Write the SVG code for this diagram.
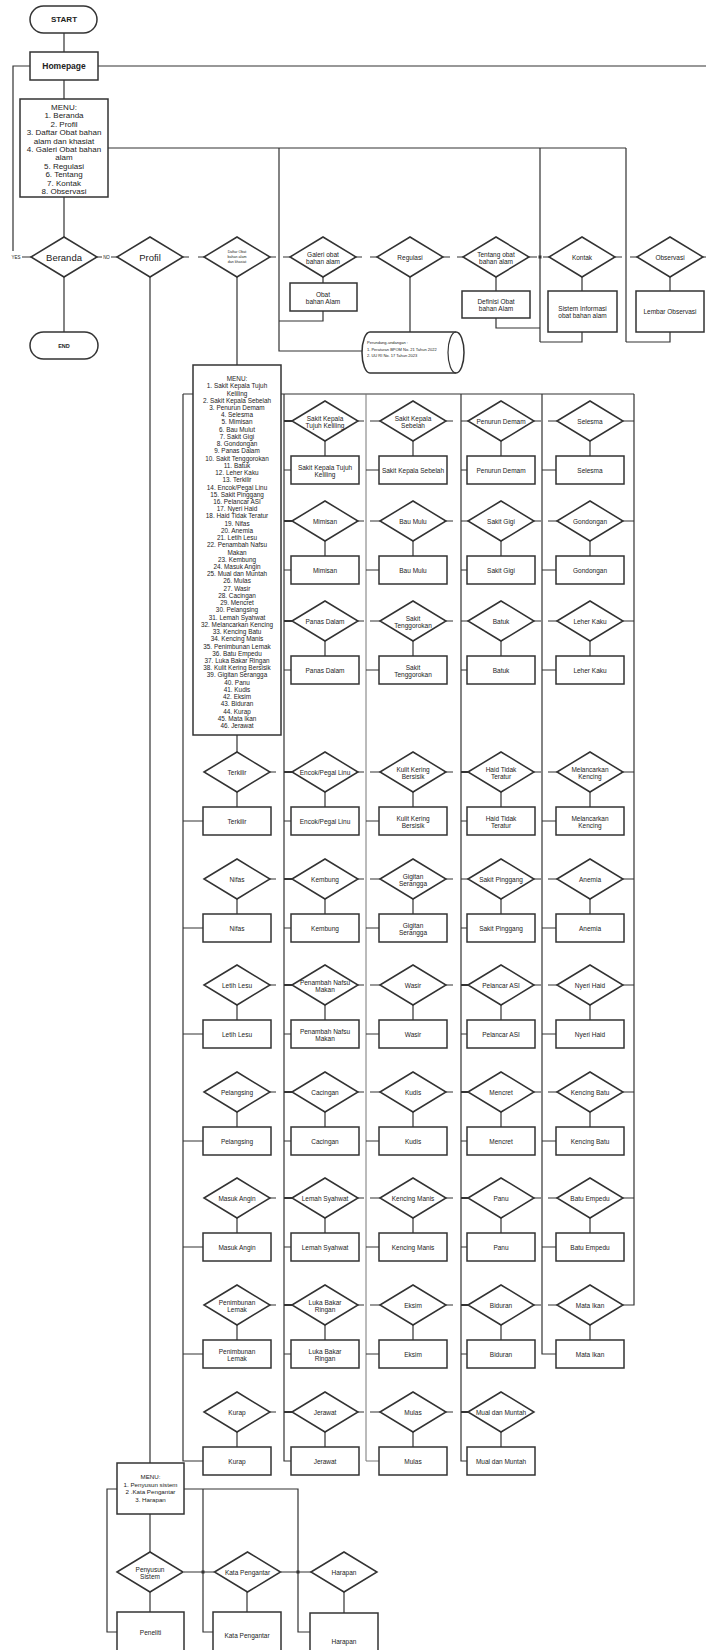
<svg xmlns="http://www.w3.org/2000/svg" xmlns:xlink="http://www.w3.org/1999/xlink" width="706" height="1650" viewBox="0 0 706 1650">
<style>
.ln{stroke:#333;stroke-width:1.2;fill:none}
.lt{stroke:#333;stroke-width:2.2;fill:none}
.lg{stroke:#777;stroke-width:1;fill:none}
.nd{fill:#fff;stroke:#333;stroke-width:1.5}
text{font-family:"Liberation Sans",Arial,sans-serif;fill:#222;text-anchor:middle;dominant-baseline:central}
.s{font-size:6.5px}
.m{font-size:8px}
.b{font-weight:bold}
.xs{font-size:4px;text-anchor:start}
</style>
<defs>
<polygon id="dia" points="-33,0 0,-20 33,0 0,20"/>
<rect id="box" x="-34" y="-14" width="68" height="28"/>
</defs>
<rect width="706" height="1650" fill="#fff"/>

<g id="connectors">
<path class="ln" d="M64,33V52M64,80V99M98,66H706M30,66H13V251M22,257H31M97,257H102M111,257H117M108,148H626M64,197V237M64,277V332M150,277V1463"/>
<path class="ln" d="M183,257H189M198,257H204M270,257H276M283,257H290M356,257H362M370,257H377M443,257H450M457,257H463M529,257H537M543,257H549M615,257H622M630,257H637M703,257H706"/>
<path class="ln" d="M279,148V351H362M323,277V283M323,311V321H279M410,277V332M496,277V291M496,318V328H540M540,148V342M582,277V291M582,332V342H540M626,148V342M670,277V291M670,332V342H626M237,277V365M237,735V752"/>
<path class="ln" d="M183,394H634M183,394V1461H203M284,394V1461H291M461,394V1461H467M542,394V1354H556M634,394V1305H623"/>
<path class="lg" d="M366,394V1461H379"/>
<path class="ln" d="M358,421H364M370,421H380M446,421H453M534,421H541M548,421H557M623,421H634M325,441V456M413,441V456M501,441V456M590,441V456M284,470H291M366,470H379M461,470H467M542,470H556"/>
<path class="ln" d="M358,521H364M370,521H380M446,521H453M534,521H541M548,521H557M623,521H634M325,541V556M413,541V556M501,541V556M590,541V556M284,570H291M366,570H379M461,570H467M542,570H556"/>
<path class="ln" d="M358,621H364M370,621H380M446,621H453M534,621H541M548,621H557M623,621H634M325,641V656M413,641V656M501,641V656M590,641V656M284,670H291M366,670H379M461,670H467M542,670H556"/>
<path class="ln" d="M270,772H276M358,772H364M370,772H380M446,772H453M534,772H541M548,772H557M623,772H634M237,792V807M325,792V807M413,792V807M501,792V807M590,792V807M183,821H203M284,821H291M366,821H379M461,821H467M542,821H556"/>
<path class="ln" d="M270,879H276M358,879H364M370,879H380M446,879H453M534,879H541M548,879H557M623,879H634M237,899V914M325,899V914M413,899V914M501,899V914M590,899V914M183,928H203M284,928H291M366,928H379M461,928H467M542,928H556"/>
<path class="ln" d="M270,985H276M358,985H364M370,985H380M446,985H453M534,985H541M548,985H557M623,985H634M237,1005V1020M325,1005V1020M413,1005V1020M501,1005V1020M590,1005V1020M183,1034H203M284,1034H291M366,1034H379M461,1034H467M542,1034H556"/>
<path class="ln" d="M270,1092H276M358,1092H364M370,1092H380M446,1092H453M534,1092H541M548,1092H557M623,1092H634M237,1112V1127M325,1112V1127M413,1112V1127M501,1112V1127M590,1112V1127M183,1141H203M284,1141H291M366,1141H379M461,1141H467M542,1141H556"/>
<path class="ln" d="M270,1198H276M358,1198H364M370,1198H380M446,1198H453M534,1198H541M548,1198H557M623,1198H634M237,1218V1233M325,1218V1233M413,1218V1233M501,1218V1233M590,1218V1233M183,1247H203M284,1247H291M366,1247H379M461,1247H467M542,1247H556"/>
<path class="ln" d="M270,1305H276M358,1305H364M370,1305H380M446,1305H453M534,1305H541M548,1305H557M237,1325V1340M325,1325V1340M413,1325V1340M501,1325V1340M590,1325V1340M183,1354H203M284,1354H291M366,1354H379M461,1354H467"/>
<path class="ln" d="M270,1412H276M358,1412H364M370,1412H380M446,1412H453M237,1432V1447M325,1432V1447M413,1432V1447M501,1432V1447"/>
<path class="lt" d="M284,421H292M284,521H292M284,621H292M284,772H292M284,879H292M284,985H292M284,1092H292M284,1198H292M284,1305H292M284,1412H292M461,772H468M461,985H468M461,1092H468M461,1198H468M461,1305H468M461,1412H468"/>
<path class="ln" d="M461,421H468M461,521H468M461,621H468M461,879H468"/>
<path class="ln" d="M150,1514V1552M117,1489H107V1632H117M184,1489H298V1632H310M203,1489V1632H213M184,1572H214M281,1572H311M150,1592V1612M247,1592V1612M344,1592V1613"/>
<g fill="#333"><rect x="201.5" y="1570.5" width="3" height="3"/><rect x="296.5" y="1570.5" width="3" height="3"/><rect x="538.5" y="255.5" width="3" height="3"/></g>
</g>

<g id="n-start"><rect class="nd" x="30" y="6" width="67" height="27" rx="13.5"/><text class="m b" x="64" y="19.5">START</text></g>
<g id="n-homepage"><rect class="nd" x="30" y="52" width="68" height="28"/><text class="b" style="font-size:8.5px" x="64" y="66">Homepage</text></g>
<g id="n-menu"><rect class="nd" x="20" y="99" width="88" height="98"/>
<text class="m"><tspan x="64" y="107">MENU:</tspan><tspan x="64" y="115.4">1. Beranda</tspan><tspan x="64" y="123.8">2. Profil</tspan><tspan x="64" y="132.2">3. Daftar Obat bahan</tspan><tspan x="64" y="140.6">alam dan khasiat</tspan><tspan x="64" y="149">4. Galeri Obat bahan</tspan><tspan x="64" y="157.4">alam</tspan><tspan x="64" y="165.8">5. Regulasi</tspan><tspan x="64" y="174.2">6. Tentang</tspan><tspan x="64" y="182.6">7. Kontak</tspan><tspan x="64" y="191">8. Observasi</tspan></text></g>
<g id="n-beranda" transform="translate(64,257)"><use href="#dia" class="nd"/><text style="font-size:9.5px">Beranda</text></g>
<text style="font-size:4.5px" x="16" y="257">YES</text>
<text style="font-size:4.5px" x="106.5" y="257">NO</text>
<g id="n-end"><rect class="nd" x="30" y="332" width="68" height="27" rx="13.5"/><text class="b" style="font-size:5.5px" x="64" y="345.5">END</text></g>
<g id="n-profil" transform="translate(150,257)"><use href="#dia" class="nd"/><text style="font-size:9.5px">Profil</text></g>
<g id="n-daftar" transform="translate(237,257)"><use href="#dia" class="nd"/><text style="font-size:3.6px"><tspan x="0" y="-5">Daftar Obat</tspan><tspan x="0" y="0">bahan alam</tspan><tspan x="0" y="5">dan khasiat</tspan></text></g>
<g id="n-galeri" transform="translate(323,257)"><use href="#dia" class="nd"/><text class="s"><tspan x="0" y="-3.5">Galeri obat</tspan><tspan x="0" y="3.5">bahan alam</tspan></text></g>
<g id="n-obat"><rect class="nd" x="290" y="283" width="67" height="28"/><text class="s"><tspan x="323" y="293.5">Obat</tspan><tspan x="323" y="300.5">bahan Alam</tspan></text></g>
<g id="n-regulasi" transform="translate(410,257)"><use href="#dia" class="nd"/><text class="s">Regulasi</text></g>
<g id="n-perundangan"><path class="nd" d="M370,332H456A8,20.5 0 0 1 456,373H370A8,20.5 0 0 1 370,332Z"/><path class="ln" d="M456,332A8,20.5 0 0 0 456,373"/>
<text class="xs"><tspan x="367" y="342">Perundang-undangan :</tspan><tspan x="367" y="349">1. Peraturan BPOM No. 21 Tahun 2022</tspan><tspan x="367" y="355">2. UU RI No. 17 Tahun 2023</tspan></text></g>
<g id="n-tentang" transform="translate(496,257)"><use href="#dia" class="nd"/><text class="s"><tspan x="0" y="-3.5">Tentang obat</tspan><tspan x="0" y="3.5">bahan alam</tspan></text></g>
<g id="n-definisi"><rect class="nd" x="462" y="291" width="68" height="27"/><text class="s"><tspan x="496" y="301">Definisi Obat</tspan><tspan x="496" y="308">bahan Alam</tspan></text></g>
<g id="n-kontak" transform="translate(582,257)"><use href="#dia" class="nd"/><text class="s">Kontak</text></g>
<g id="n-sistem"><rect class="nd" x="548" y="291" width="69" height="41"/><text class="s"><tspan x="582.5" y="308">Sistem Informasi</tspan><tspan x="582.5" y="315">obat bahan alam</tspan></text></g>
<g id="n-observasi" transform="translate(670,257)"><use href="#dia" class="nd"/><text class="s">Observasi</text></g>
<g id="n-lembar"><rect class="nd" x="636" y="291" width="68" height="41"/><text class="s" x="670" y="311.5">Lembar Observasi</text></g>

<g id="n-menu-daftar"><rect class="nd" x="193" y="365" width="88" height="370"/>
<text style="font-size:6.4px"><tspan x="237" y="378">MENU:</tspan><tspan x="237" y="385.2">1. Sakit Kepala Tujuh</tspan><tspan x="237" y="392.5">Keliling</tspan><tspan x="237" y="399.7">2. Sakit Kepala Sebelah</tspan><tspan x="237" y="406.9">3. Penurun Demam</tspan><tspan x="237" y="414.2">4. Selesma</tspan><tspan x="237" y="421.4">5. Mimisan</tspan><tspan x="237" y="428.6">6. Bau Mulut</tspan><tspan x="237" y="435.8">7. Sakit Gigi</tspan><tspan x="237" y="443.1">8. Gondongan</tspan><tspan x="237" y="450.3">9. Panas Dalam</tspan><tspan x="237" y="457.5">10. Sakit Tenggorokan</tspan><tspan x="237" y="464.8">11. Batuk</tspan><tspan x="237" y="472">12. Leher Kaku</tspan><tspan x="237" y="479.2">13. Terkilir</tspan><tspan x="237" y="486.5">14. Encok/Pegal Linu</tspan><tspan x="237" y="493.7">15. Sakit Pinggang</tspan><tspan x="237" y="500.9">16. Pelancar ASI</tspan><tspan x="237" y="508.1">17. Nyeri Haid</tspan><tspan x="237" y="515.4">18. Haid Tidak Teratur</tspan><tspan x="237" y="522.6">19. Nifas</tspan><tspan x="237" y="529.8">20. Anemia</tspan><tspan x="237" y="537.1">21. Letih Lesu</tspan><tspan x="237" y="544.3">22. Penambah Nafsu</tspan><tspan x="237" y="551.5">Makan</tspan><tspan x="237" y="558.8">23. Kembung</tspan><tspan x="237" y="566">24. Masuk Angin</tspan><tspan x="237" y="573.2">25. Mual dan Muntah</tspan><tspan x="237" y="580.4">26. Mulas</tspan><tspan x="237" y="587.7">27. Wasir</tspan><tspan x="237" y="594.9">28. Cacingan</tspan><tspan x="237" y="602.1">29. Mencret</tspan><tspan x="237" y="609.4">30. Pelangsing</tspan><tspan x="237" y="616.6">31. Lemah Syahwat</tspan><tspan x="237" y="623.8">32. Melancarkan Kencing</tspan><tspan x="237" y="631.1">33. Kencing Batu</tspan><tspan x="237" y="638.3">34. Kencing Manis</tspan><tspan x="237" y="645.5">35. Penimbunan Lemak</tspan><tspan x="237" y="652.7">36. Batu Empedu</tspan><tspan x="237" y="660">37. Luka Bakar Ringan</tspan><tspan x="237" y="667.2">38. Kulit Kering Bersisik</tspan><tspan x="237" y="674.4">39. Gigitan Serangga</tspan><tspan x="237" y="681.7">40. Panu</tspan><tspan x="237" y="688.9">41. Kudis</tspan><tspan x="237" y="696.1">42. Eksim</tspan><tspan x="237" y="703.4">43. Biduran</tspan><tspan x="237" y="710.6">44. Kurap</tspan><tspan x="237" y="717.8">45. Mata Ikan</tspan><tspan x="237" y="725">46. Jerawat</tspan></text></g>

<!-- Row A -->
<g id="q-skt" transform="translate(325,421)"><use href="#dia" class="nd"/><text class="s"><tspan x="0" y="-3.5">Sakit Kepala</tspan><tspan x="0" y="3.5">Tujuh Keliling</tspan></text></g>
<g id="b-skt" transform="translate(325,470)"><use href="#box" class="nd"/><text class="s"><tspan x="0" y="-3.5">Sakit Kepala Tujuh</tspan><tspan x="0" y="3.5">Keliling</tspan></text></g>
<g id="q-sks" transform="translate(413,421)"><use href="#dia" class="nd"/><text class="s"><tspan x="0" y="-3.5">Sakit Kepala</tspan><tspan x="0" y="3.5">Sebelah</tspan></text></g>
<g id="b-sks" transform="translate(413,470)"><use href="#box" class="nd"/><text class="s">Sakit Kepala Sebelah</text></g>
<g id="q-pd" transform="translate(501,421)"><use href="#dia" class="nd"/><text class="s">Penurun Demam</text></g>
<g id="b-pd" transform="translate(501,470)"><use href="#box" class="nd"/><text class="s">Penurun Demam</text></g>
<g id="q-sel" transform="translate(590,421)"><use href="#dia" class="nd"/><text class="s">Selesma</text></g>
<g id="b-sel" transform="translate(590,470)"><use href="#box" class="nd"/><text class="s">Selesma</text></g>
<!-- Row B -->
<g id="q-mim" transform="translate(325,521)"><use href="#dia" class="nd"/><text class="s">Mimisan</text></g>
<g id="b-mim" transform="translate(325,570)"><use href="#box" class="nd"/><text class="s">Mimisan</text></g>
<g id="q-bau" transform="translate(413,521)"><use href="#dia" class="nd"/><text class="s">Bau Mulu</text></g>
<g id="b-bau" transform="translate(413,570)"><use href="#box" class="nd"/><text class="s">Bau Mulu</text></g>
<g id="q-gigi" transform="translate(501,521)"><use href="#dia" class="nd"/><text class="s">Sakit Gigi</text></g>
<g id="b-gigi" transform="translate(501,570)"><use href="#box" class="nd"/><text class="s">Sakit Gigi</text></g>
<g id="q-gon" transform="translate(590,521)"><use href="#dia" class="nd"/><text class="s">Gondongan</text></g>
<g id="b-gon" transform="translate(590,570)"><use href="#box" class="nd"/><text class="s">Gondongan</text></g>
<!-- Row C -->
<g id="q-pan" transform="translate(325,621)"><use href="#dia" class="nd"/><text class="s">Panas Dalam</text></g>
<g id="b-pan" transform="translate(325,670)"><use href="#box" class="nd"/><text class="s">Panas Dalam</text></g>
<g id="q-ten" transform="translate(413,621)"><use href="#dia" class="nd"/><text class="s"><tspan x="0" y="-3.5">Sakit</tspan><tspan x="0" y="3.5">Tenggorokan</tspan></text></g>
<g id="b-ten" transform="translate(413,670)"><use href="#box" class="nd"/><text class="s"><tspan x="0" y="-3.5">Sakit</tspan><tspan x="0" y="3.5">Tenggorokan</tspan></text></g>
<g id="q-bat" transform="translate(501,621)"><use href="#dia" class="nd"/><text class="s">Batuk</text></g>
<g id="b-bat" transform="translate(501,670)"><use href="#box" class="nd"/><text class="s">Batuk</text></g>
<g id="q-lk" transform="translate(590,621)"><use href="#dia" class="nd"/><text class="s">Leher Kaku</text></g>
<g id="b-lk" transform="translate(590,670)"><use href="#box" class="nd"/><text class="s">Leher Kaku</text></g>
<!-- Row D -->
<g id="q-ter" transform="translate(237,772)"><use href="#dia" class="nd"/><text class="s">Terkilir</text></g>
<g id="b-ter" transform="translate(237,821)"><use href="#box" class="nd"/><text class="s">Terkilir</text></g>
<g id="q-enc" transform="translate(325,772)"><use href="#dia" class="nd"/><text class="s">Encok/Pegal Linu</text></g>
<g id="b-enc" transform="translate(325,821)"><use href="#box" class="nd"/><text class="s">Encok/Pegal Linu</text></g>
<g id="q-kkb" transform="translate(413,772)"><use href="#dia" class="nd"/><text class="s"><tspan x="0" y="-3.5">Kulit Kering</tspan><tspan x="0" y="3.5">Bersisik</tspan></text></g>
<g id="b-kkb" transform="translate(413,821)"><use href="#box" class="nd"/><text class="s"><tspan x="0" y="-3.5">Kulit Kering</tspan><tspan x="0" y="3.5">Bersisik</tspan></text></g>
<g id="q-htt" transform="translate(501,772)"><use href="#dia" class="nd"/><text class="s"><tspan x="0" y="-3.5">Haid Tidak</tspan><tspan x="0" y="3.5">Teratur</tspan></text></g>
<g id="b-htt" transform="translate(501,821)"><use href="#box" class="nd"/><text class="s"><tspan x="0" y="-3.5">Haid Tidak</tspan><tspan x="0" y="3.5">Teratur</tspan></text></g>
<g id="q-mlk" transform="translate(590,772)"><use href="#dia" class="nd"/><text class="s"><tspan x="0" y="-3.5">Melancarkan</tspan><tspan x="0" y="3.5">Kencing</tspan></text></g>
<g id="b-mlk" transform="translate(590,821)"><use href="#box" class="nd"/><text class="s"><tspan x="0" y="-3.5">Melancarkan</tspan><tspan x="0" y="3.5">Kencing</tspan></text></g>
<!-- Row E -->
<g id="q-nif" transform="translate(237,879)"><use href="#dia" class="nd"/><text class="s">Nifas</text></g>
<g id="b-nif" transform="translate(237,928)"><use href="#box" class="nd"/><text class="s">Nifas</text></g>
<g id="q-kem" transform="translate(325,879)"><use href="#dia" class="nd"/><text class="s">Kembung</text></g>
<g id="b-kem" transform="translate(325,928)"><use href="#box" class="nd"/><text class="s">Kembung</text></g>
<g id="q-gs" transform="translate(413,879)"><use href="#dia" class="nd"/><text class="s"><tspan x="0" y="-3.5">Gigitan</tspan><tspan x="0" y="3.5">Serangga</tspan></text></g>
<g id="b-gs" transform="translate(413,928)"><use href="#box" class="nd"/><text class="s"><tspan x="0" y="-3.5">Gigitan</tspan><tspan x="0" y="3.5">Serangga</tspan></text></g>
<g id="q-sp" transform="translate(501,879)"><use href="#dia" class="nd"/><text class="s">Sakit Pinggang</text></g>
<g id="b-sp" transform="translate(501,928)"><use href="#box" class="nd"/><text class="s">Sakit Pinggang</text></g>
<g id="q-ane" transform="translate(590,879)"><use href="#dia" class="nd"/><text class="s">Anemia</text></g>
<g id="b-ane" transform="translate(590,928)"><use href="#box" class="nd"/><text class="s">Anemia</text></g>
<!-- Row F -->
<g id="q-ll" transform="translate(237,985)"><use href="#dia" class="nd"/><text class="s">Letih Lesu</text></g>
<g id="b-ll" transform="translate(237,1034)"><use href="#box" class="nd"/><text class="s">Letih Lesu</text></g>
<g id="q-pnm" transform="translate(325,985)"><use href="#dia" class="nd"/><text class="s"><tspan x="0" y="-3.5">Penambah Nafsu</tspan><tspan x="0" y="3.5">Makan</tspan></text></g>
<g id="b-pnm" transform="translate(325,1034)"><use href="#box" class="nd"/><text class="s"><tspan x="0" y="-3.5">Penambah Nafsu</tspan><tspan x="0" y="3.5">Makan</tspan></text></g>
<g id="q-was" transform="translate(413,985)"><use href="#dia" class="nd"/><text class="s">Wasir</text></g>
<g id="b-was" transform="translate(413,1034)"><use href="#box" class="nd"/><text class="s">Wasir</text></g>
<g id="q-asi" transform="translate(501,985)"><use href="#dia" class="nd"/><text class="s">Pelancar ASI</text></g>
<g id="b-asi" transform="translate(501,1034)"><use href="#box" class="nd"/><text class="s">Pelancar ASI</text></g>
<g id="q-nh" transform="translate(590,985)"><use href="#dia" class="nd"/><text class="s">Nyeri Haid</text></g>
<g id="b-nh" transform="translate(590,1034)"><use href="#box" class="nd"/><text class="s">Nyeri Haid</text></g>
<!-- Row G -->
<g id="q-pel" transform="translate(237,1092)"><use href="#dia" class="nd"/><text class="s">Pelangsing</text></g>
<g id="b-pel" transform="translate(237,1141)"><use href="#box" class="nd"/><text class="s">Pelangsing</text></g>
<g id="q-cac" transform="translate(325,1092)"><use href="#dia" class="nd"/><text class="s">Cacingan</text></g>
<g id="b-cac" transform="translate(325,1141)"><use href="#box" class="nd"/><text class="s">Cacingan</text></g>
<g id="q-kud" transform="translate(413,1092)"><use href="#dia" class="nd"/><text class="s">Kudis</text></g>
<g id="b-kud" transform="translate(413,1141)"><use href="#box" class="nd"/><text class="s">Kudis</text></g>
<g id="q-men" transform="translate(501,1092)"><use href="#dia" class="nd"/><text class="s">Mencret</text></g>
<g id="b-men" transform="translate(501,1141)"><use href="#box" class="nd"/><text class="s">Mencret</text></g>
<g id="q-kb" transform="translate(590,1092)"><use href="#dia" class="nd"/><text class="s">Kencing Batu</text></g>
<g id="b-kb" transform="translate(590,1141)"><use href="#box" class="nd"/><text class="s">Kencing Batu</text></g>
<!-- Row H -->
<g id="q-ma" transform="translate(237,1198)"><use href="#dia" class="nd"/><text class="s">Masuk Angin</text></g>
<g id="b-ma" transform="translate(237,1247)"><use href="#box" class="nd"/><text class="s">Masuk Angin</text></g>
<g id="q-ls" transform="translate(325,1198)"><use href="#dia" class="nd"/><text class="s">Lemah Syahwat</text></g>
<g id="b-ls" transform="translate(325,1247)"><use href="#box" class="nd"/><text class="s">Lemah Syahwat</text></g>
<g id="q-km" transform="translate(413,1198)"><use href="#dia" class="nd"/><text class="s">Kencing Manis</text></g>
<g id="b-km" transform="translate(413,1247)"><use href="#box" class="nd"/><text class="s">Kencing Manis</text></g>
<g id="q-panu" transform="translate(501,1198)"><use href="#dia" class="nd"/><text class="s">Panu</text></g>
<g id="b-panu" transform="translate(501,1247)"><use href="#box" class="nd"/><text class="s">Panu</text></g>
<g id="q-be" transform="translate(590,1198)"><use href="#dia" class="nd"/><text class="s">Batu Empedu</text></g>
<g id="b-be" transform="translate(590,1247)"><use href="#box" class="nd"/><text class="s">Batu Empedu</text></g>
<!-- Row I -->
<g id="q-pl" transform="translate(237,1305)"><use href="#dia" class="nd"/><text class="s"><tspan x="0" y="-3.5">Penimbunan</tspan><tspan x="0" y="3.5">Lemak</tspan></text></g>
<g id="b-pl" transform="translate(237,1354)"><use href="#box" class="nd"/><text class="s"><tspan x="0" y="-3.5">Penimbunan</tspan><tspan x="0" y="3.5">Lemak</tspan></text></g>
<g id="q-lbr" transform="translate(325,1305)"><use href="#dia" class="nd"/><text class="s"><tspan x="0" y="-3.5">Luka Bakar</tspan><tspan x="0" y="3.5">Ringan</tspan></text></g>
<g id="b-lbr" transform="translate(325,1354)"><use href="#box" class="nd"/><text class="s"><tspan x="0" y="-3.5">Luka Bakar</tspan><tspan x="0" y="3.5">Ringan</tspan></text></g>
<g id="q-eks" transform="translate(413,1305)"><use href="#dia" class="nd"/><text class="s">Eksim</text></g>
<g id="b-eks" transform="translate(413,1354)"><use href="#box" class="nd"/><text class="s">Eksim</text></g>
<g id="q-bid" transform="translate(501,1305)"><use href="#dia" class="nd"/><text class="s">Biduran</text></g>
<g id="b-bid" transform="translate(501,1354)"><use href="#box" class="nd"/><text class="s">Biduran</text></g>
<g id="q-mi" transform="translate(590,1305)"><use href="#dia" class="nd"/><text class="s">Mata Ikan</text></g>
<g id="b-mi" transform="translate(590,1354)"><use href="#box" class="nd"/><text class="s">Mata Ikan</text></g>
<!-- Row J -->
<g id="q-kur" transform="translate(237,1412)"><use href="#dia" class="nd"/><text class="s">Kurap</text></g>
<g id="b-kur" transform="translate(237,1461)"><use href="#box" class="nd"/><text class="s">Kurap</text></g>
<g id="q-jer" transform="translate(325,1412)"><use href="#dia" class="nd"/><text class="s">Jerawat</text></g>
<g id="b-jer" transform="translate(325,1461)"><use href="#box" class="nd"/><text class="s">Jerawat</text></g>
<g id="q-mul" transform="translate(413,1412)"><use href="#dia" class="nd"/><text class="s">Mulas</text></g>
<g id="b-mul" transform="translate(413,1461)"><use href="#box" class="nd"/><text class="s">Mulas</text></g>
<g id="q-mdm" transform="translate(501,1412)"><use href="#dia" class="nd"/><text class="s">Mual dan Muntah</text></g>
<g id="b-mdm" transform="translate(501,1461)"><use href="#box" class="nd"/><text class="s">Mual dan Muntah</text></g>

<!-- Profil section -->
<g id="n-menu-profil"><rect class="nd" x="117" y="1463" width="67" height="51"/>
<text style="font-size:6.2px"><tspan x="150.5" y="1476">MENU:</tspan><tspan x="150.5" y="1483.5">1. Penyusun sistem</tspan><tspan x="150.5" y="1491">2 .Kata Pengantar</tspan><tspan x="150.5" y="1498.5">3. Harapan</tspan></text></g>
<g id="q-penyusun" transform="translate(150,1572)"><use href="#dia" class="nd"/><text class="s"><tspan x="0" y="-3.5">Penyusun</tspan><tspan x="0" y="3.5">Sistem</tspan></text></g>
<g id="q-kata" transform="translate(247.5,1572)"><use href="#dia" class="nd"/><text class="s">Kata Pengantar</text></g>
<g id="q-harapan" transform="translate(344,1572)"><use href="#dia" class="nd"/><text class="s">Harapan</text></g>
<g id="b-peneliti"><rect class="nd" x="117" y="1612" width="67" height="50"/><text class="s" x="150.5" y="1632">Peneliti</text></g>
<g id="b-kata"><rect class="nd" x="213" y="1612" width="68" height="50"/><text class="s" x="247" y="1635">Kata Pengantar</text></g>
<g id="b-harapan"><rect class="nd" x="310" y="1613" width="68" height="50"/><text class="s" x="344" y="1641">Harapan</text></g>
</svg>
